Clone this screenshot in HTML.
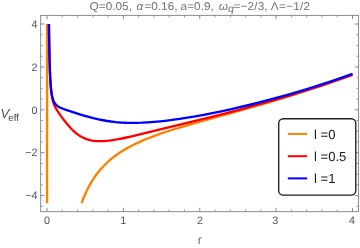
<!DOCTYPE html>
<html><head><meta charset="utf-8"><style>
html,body{margin:0;padding:0;background:#fff;}
svg{display:block;font-family:"Liberation Sans",sans-serif;will-change:transform;}
text{text-rendering:geometricPrecision;}
</style></head><body>
<svg width="360" height="248" viewBox="0 0 360 248">
<rect width="360" height="248" fill="#fff"/>
<g fill="none" stroke-linecap="butt" stroke-linejoin="round">
<path d="M47.10 24.00 L47.10 203.00 M81.57 203.00 L83.69 197.54 L85.89 192.53 L88.22 187.78 L89.49 185.40 L90.76 183.16 L92.10 180.93 L93.45 178.82 L94.86 176.73 L96.27 174.75 L97.76 172.79 L99.24 170.94 L100.80 169.10 L102.42 167.28 L104.12 165.49 L105.81 163.80 L107.58 162.13 L109.42 160.49 L111.33 158.87 L113.23 157.34 L115.28 155.79 L117.33 154.31 L119.45 152.86 L121.64 151.44 L123.91 150.04 L126.31 148.63 L131.25 145.94 L136.56 143.31 L140.30 141.60 L144.19 139.92 L148.29 138.24 L152.60 136.57 L157.12 134.90 L161.93 133.21 L167.01 131.50 L172.45 129.75 L182.07 126.79 L193.16 123.54 L205.60 120.02 L237.19 111.26 L252.81 106.86 L269.48 102.04 L285.03 97.39 L302.56 91.93 L319.52 86.41 L327.86 83.60 L336.12 80.75 L344.32 77.86 L352.52 74.90" stroke="#ff8000" stroke-width="2.35"/>
<path d="M48.93 24.00 L49.21 43.79 L49.54 59.50 L49.93 71.93 L50.42 81.74 L50.70 85.75 L51.01 89.34 L51.36 92.50 L51.76 95.32 L52.19 97.81 L52.69 100.07 L53.25 102.12 L53.90 104.04 L54.44 105.39 L55.04 106.69 L55.71 108.00 L56.48 109.37 L58.39 112.39 L61.00 116.11 L64.37 120.61 L67.52 124.51 L70.41 127.78 L71.82 129.25 L73.16 130.56 L75.43 132.59 L77.69 134.37 L80.02 135.95 L82.35 137.28 L84.75 138.42 L87.23 139.35 L89.77 140.08 L92.46 140.63 L95.28 141.00 L98.25 141.19 L101.43 141.20 L104.82 141.03 L108.50 140.68 L112.46 140.16 L116.84 139.43 L121.79 138.48 L126.45 137.50 L131.75 136.32 L145.88 132.97 L192.24 121.65 L217.68 115.30 L237.12 110.28 L255.07 105.45 L272.24 100.62 L288.78 95.75 L305.10 90.72 L321.07 85.55 L336.90 80.19 L352.52 74.66" stroke="#ff0000" stroke-width="2.35"/>
<path d="M48.93 24.00 L49.22 44.36 L49.57 60.41 L50.00 72.98 L50.24 78.15 L50.52 82.65 L50.83 86.55 L51.16 89.92 L51.55 92.87 L51.98 95.44 L52.47 97.66 L53.03 99.55 L53.65 101.18 L54.38 102.61 L55.13 103.72 L55.99 104.72 L56.97 105.61 L58.12 106.43 L59.44 107.19 L61.02 107.95 L62.91 108.73 L65.32 109.61 L70.62 111.39 L78.25 113.83 L83.84 115.54 L88.71 116.93 L93.23 118.12 L97.55 119.13 L101.79 120.02 L106.03 120.77 L110.83 121.49 L115.71 122.05 L120.65 122.46 L125.74 122.73 L130.97 122.86 L136.34 122.84 L141.93 122.69 L147.79 122.39 L153.94 121.94 L160.30 121.34 L167.01 120.59 L174.01 119.69 L181.29 118.65 L188.92 117.44 L196.84 116.08 L204.96 114.59 L213.66 112.88 L222.56 111.04 L231.61 109.06 L240.79 106.96 L250.05 104.74 L259.38 102.41 L268.71 99.98 L278.11 97.44 L287.43 94.83 L296.76 92.12 L306.09 89.32 L315.42 86.42 L324.75 83.43 L334.00 80.37 L343.26 77.22 L352.52 73.97" stroke="#0000ff" stroke-width="2.35"/>
</g>
<g stroke="#6e6e6e" stroke-width="0.8" fill="none">
<rect x="40.65" y="15.4" width="317.90" height="196.25" stroke-width="1" stroke="#8c8c8c"/>
<line x1="47.00" y1="211.65" x2="47.00" y2="207.85"/><line x1="47.00" y1="15.40" x2="47.00" y2="19.20"/><line x1="62.28" y1="211.65" x2="62.28" y2="209.45" stroke-width="0.65"/><line x1="62.28" y1="15.40" x2="62.28" y2="17.60" stroke-width="0.65"/><line x1="77.55" y1="211.65" x2="77.55" y2="209.45" stroke-width="0.65"/><line x1="77.55" y1="15.40" x2="77.55" y2="17.60" stroke-width="0.65"/><line x1="92.83" y1="211.65" x2="92.83" y2="209.45" stroke-width="0.65"/><line x1="92.83" y1="15.40" x2="92.83" y2="17.60" stroke-width="0.65"/><line x1="108.10" y1="211.65" x2="108.10" y2="209.45" stroke-width="0.65"/><line x1="108.10" y1="15.40" x2="108.10" y2="17.60" stroke-width="0.65"/><line x1="123.38" y1="211.65" x2="123.38" y2="207.85"/><line x1="123.38" y1="15.40" x2="123.38" y2="19.20"/><line x1="138.66" y1="211.65" x2="138.66" y2="209.45" stroke-width="0.65"/><line x1="138.66" y1="15.40" x2="138.66" y2="17.60" stroke-width="0.65"/><line x1="153.93" y1="211.65" x2="153.93" y2="209.45" stroke-width="0.65"/><line x1="153.93" y1="15.40" x2="153.93" y2="17.60" stroke-width="0.65"/><line x1="169.21" y1="211.65" x2="169.21" y2="209.45" stroke-width="0.65"/><line x1="169.21" y1="15.40" x2="169.21" y2="17.60" stroke-width="0.65"/><line x1="184.48" y1="211.65" x2="184.48" y2="209.45" stroke-width="0.65"/><line x1="184.48" y1="15.40" x2="184.48" y2="17.60" stroke-width="0.65"/><line x1="199.76" y1="211.65" x2="199.76" y2="207.85"/><line x1="199.76" y1="15.40" x2="199.76" y2="19.20"/><line x1="215.04" y1="211.65" x2="215.04" y2="209.45" stroke-width="0.65"/><line x1="215.04" y1="15.40" x2="215.04" y2="17.60" stroke-width="0.65"/><line x1="230.31" y1="211.65" x2="230.31" y2="209.45" stroke-width="0.65"/><line x1="230.31" y1="15.40" x2="230.31" y2="17.60" stroke-width="0.65"/><line x1="245.59" y1="211.65" x2="245.59" y2="209.45" stroke-width="0.65"/><line x1="245.59" y1="15.40" x2="245.59" y2="17.60" stroke-width="0.65"/><line x1="260.86" y1="211.65" x2="260.86" y2="209.45" stroke-width="0.65"/><line x1="260.86" y1="15.40" x2="260.86" y2="17.60" stroke-width="0.65"/><line x1="276.14" y1="211.65" x2="276.14" y2="207.85"/><line x1="276.14" y1="15.40" x2="276.14" y2="19.20"/><line x1="291.42" y1="211.65" x2="291.42" y2="209.45" stroke-width="0.65"/><line x1="291.42" y1="15.40" x2="291.42" y2="17.60" stroke-width="0.65"/><line x1="306.69" y1="211.65" x2="306.69" y2="209.45" stroke-width="0.65"/><line x1="306.69" y1="15.40" x2="306.69" y2="17.60" stroke-width="0.65"/><line x1="321.97" y1="211.65" x2="321.97" y2="209.45" stroke-width="0.65"/><line x1="321.97" y1="15.40" x2="321.97" y2="17.60" stroke-width="0.65"/><line x1="337.24" y1="211.65" x2="337.24" y2="209.45" stroke-width="0.65"/><line x1="337.24" y1="15.40" x2="337.24" y2="17.60" stroke-width="0.65"/><line x1="352.52" y1="211.65" x2="352.52" y2="207.85"/><line x1="352.52" y1="15.40" x2="352.52" y2="19.20"/><line x1="40.65" y1="206.32" x2="42.85" y2="206.32" stroke-width="0.65"/><line x1="358.55" y1="206.32" x2="356.35" y2="206.32" stroke-width="0.65"/><line x1="40.65" y1="195.60" x2="44.45" y2="195.60"/><line x1="358.55" y1="195.60" x2="354.75" y2="195.60"/><line x1="40.65" y1="184.88" x2="42.85" y2="184.88" stroke-width="0.65"/><line x1="358.55" y1="184.88" x2="356.35" y2="184.88" stroke-width="0.65"/><line x1="40.65" y1="174.15" x2="42.85" y2="174.15" stroke-width="0.65"/><line x1="358.55" y1="174.15" x2="356.35" y2="174.15" stroke-width="0.65"/><line x1="40.65" y1="163.43" x2="42.85" y2="163.43" stroke-width="0.65"/><line x1="358.55" y1="163.43" x2="356.35" y2="163.43" stroke-width="0.65"/><line x1="40.65" y1="152.70" x2="44.45" y2="152.70"/><line x1="358.55" y1="152.70" x2="354.75" y2="152.70"/><line x1="40.65" y1="141.97" x2="42.85" y2="141.97" stroke-width="0.65"/><line x1="358.55" y1="141.97" x2="356.35" y2="141.97" stroke-width="0.65"/><line x1="40.65" y1="131.25" x2="42.85" y2="131.25" stroke-width="0.65"/><line x1="358.55" y1="131.25" x2="356.35" y2="131.25" stroke-width="0.65"/><line x1="40.65" y1="120.52" x2="42.85" y2="120.52" stroke-width="0.65"/><line x1="358.55" y1="120.52" x2="356.35" y2="120.52" stroke-width="0.65"/><line x1="40.65" y1="109.80" x2="44.45" y2="109.80"/><line x1="358.55" y1="109.80" x2="354.75" y2="109.80"/><line x1="40.65" y1="99.08" x2="42.85" y2="99.08" stroke-width="0.65"/><line x1="358.55" y1="99.08" x2="356.35" y2="99.08" stroke-width="0.65"/><line x1="40.65" y1="88.35" x2="42.85" y2="88.35" stroke-width="0.65"/><line x1="358.55" y1="88.35" x2="356.35" y2="88.35" stroke-width="0.65"/><line x1="40.65" y1="77.62" x2="42.85" y2="77.62" stroke-width="0.65"/><line x1="358.55" y1="77.62" x2="356.35" y2="77.62" stroke-width="0.65"/><line x1="40.65" y1="66.90" x2="44.45" y2="66.90"/><line x1="358.55" y1="66.90" x2="354.75" y2="66.90"/><line x1="40.65" y1="56.17" x2="42.85" y2="56.17" stroke-width="0.65"/><line x1="358.55" y1="56.17" x2="356.35" y2="56.17" stroke-width="0.65"/><line x1="40.65" y1="45.45" x2="42.85" y2="45.45" stroke-width="0.65"/><line x1="358.55" y1="45.45" x2="356.35" y2="45.45" stroke-width="0.65"/><line x1="40.65" y1="34.72" x2="42.85" y2="34.72" stroke-width="0.65"/><line x1="358.55" y1="34.72" x2="356.35" y2="34.72" stroke-width="0.65"/><line x1="40.65" y1="24.00" x2="44.45" y2="24.00"/><line x1="358.55" y1="24.00" x2="354.75" y2="24.00"/>
</g>
<g fill="#555555" font-size="10.8px">
<text x="47.00" y="223.7" text-anchor="middle">0</text><text x="123.18" y="223.7" text-anchor="middle">1</text><text x="199.96" y="223.7" text-anchor="middle">2</text><text x="275.34" y="223.7" text-anchor="middle">3</text><text x="352.02" y="223.7" text-anchor="middle">4</text>
<text x="37.5" y="27.70" text-anchor="end">4</text><text x="37.5" y="70.60" text-anchor="end">2</text><text x="37.5" y="113.50" text-anchor="end">0</text><text x="37.5" y="156.40" text-anchor="end">−2</text><text x="37.5" y="199.30" text-anchor="end">−4</text>
</g>
<g font-size="11.3px" fill="#737373">
<text transform="translate(89.6,10.4) scale(1.045,1)">Q=0.05,</text>
<text transform="translate(136.4,10.4) scale(1.045,1)"><tspan font-style="italic">α</tspan><tspan dx="1.2">=0.16,</tspan></text>
<text transform="translate(180.6,10.4) scale(1.045,1)">a=0.9,</text>
<text transform="translate(218.7,10.4) scale(1.045,1)"><tspan font-style="italic">ω</tspan><tspan font-style="italic" font-size="10.3px" dy="2" dx="0.2">q</tspan><tspan dy="-2" dx="-0.7" letter-spacing="0.15">=−2/3,</tspan></text>
<text transform="translate(270.8,10.4) scale(1.045,1)" letter-spacing="0.22">Λ=−1/2</text>
</g>
<text x="199.9" y="243.6" text-anchor="middle" font-size="12.5px" fill="#737373">r</text>
<text x="0.6" y="117.7" font-size="13.2px" fill="#4d4d4d"><tspan font-style="italic">V</tspan><tspan font-size="10px" dy="3.3" dx="-1.2" fill="#444">eff</tspan></text>
<rect x="278.7" y="118.7" width="77.1" height="76.4" rx="4.6" ry="4.6" fill="#fff" stroke="#1f1f1f" stroke-width="1.35"/>
<g stroke-width="2" fill="none">
<line x1="287.8" x2="307.2" y1="133.9" y2="133.9" stroke="#ff8000"/>
<line x1="287.8" x2="307.2" y1="156.2" y2="156.2" stroke="#ff0000"/>
<line x1="287.8" x2="307.2" y1="178.4" y2="178.4" stroke="#0000ff"/>
</g>
<g font-size="13.1px" fill="#1a1a1a">
<text x="314" y="138.7">l =0</text>
<text x="314" y="160.7">l =0.5</text>
<text x="314" y="183.1">l =1</text>
</g>
</svg>
</body></html>
